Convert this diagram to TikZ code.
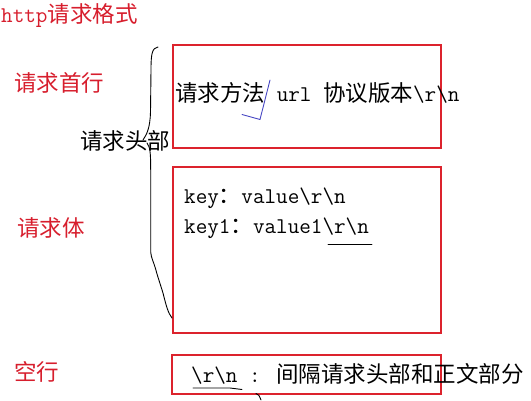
\documentclass[tikz,border=0pt]{standalone}
\usepackage{fontspec}
\newfontfamily\zh{Noto Sans CJK SC}
\definecolor{boxred}{RGB}{220,35,45}
\definecolor{txtred}{RGB}{215,30,45}
\definecolor{chkblue}{RGB}{70,70,195}
\newcommand{\bsl}{\textbackslash}
\tikzset{
  lbl/.style={anchor=west, inner sep=0pt, font=\fontsize{22.5}{27}\selectfont\ttfamily},
  redlbl/.style={lbl, text=txtred},
  frame/.style={draw=boxred, line width=1.5pt, inner sep=0pt},
  pen/.style={draw=black, line width=0.9pt, line cap=round, line join=round},
}
\begin{document}
\begin{tikzpicture}[x=1pt,y=-1pt]
\useasboundingbox (0,0) rectangle (531,400);
% title and side labels
\node[redlbl] (title) at (1,16) {http\zh 请求格式};
\node[redlbl] (shouhang) at (14,83) {\zh 请求首行};
\node[redlbl] (qingqiuti) at (17,228) {\zh 请求体};
\node[redlbl] (kongxing) at (14,372) {\zh 空行};
\node[lbl] (toubu) at (80,141) {\zh 请求头部};
% frames
\node[frame, minimum width=268pt, minimum height=103pt] (box1) at (307,96.5) {};
\node[frame, minimum width=268pt, minimum height=166pt] (box2) at (307,250) {};
\node[frame, minimum width=269pt, minimum height=39pt] (box3) at (306.5,374.5) {};
% frame texts
\node[lbl] (line1) at (175,93) {{\zh 请求方法} url {\zh 协议版本}\bsl r\bsl n};
\node[lbl] (kv1) at (184,198) {key{\zh ：}value\bsl r\bsl n};
\node[lbl] (kv2) at (184,228) {key1{\zh ：}value1\bsl r\bsl n};
\node[lbl] (blank) at (191,374) {\bsl r\bsl n : {\zh 间隔请求头部和正文部分}};
% underlines
\coordinate (u1a) at (328,244);
\coordinate (u1b) at (372,244);
\draw[pen] (u1a) -- (u1b);
\coordinate (u2a) at (193,388);
\coordinate (u2b) at (230,388);
\coordinate (u2c) at (242,389.5);
\draw[pen] (u2a) -- (u2b) .. controls (236,388) .. (u2c);
\coordinate (s1) at (256,393.5);
\coordinate (s2) at (261,400);
\draw[pen] (s1) .. controls (259,395) .. (s2);
% check mark
\coordinate (c1) at (242,114.5);
\coordinate (c2) at (260,119.5);
\coordinate (c3) at (270,80);
\draw[draw=chkblue, line width=0.9pt, line cap=round, line join=round] (c1) -- (c2) -- (c3);
% hand drawn brace
\coordinate (b0) at (158,47);
\coordinate (b1) at (143,140);
\coordinate (b2) at (147,143);
\coordinate (b3) at (172,318);
\draw[pen] (b0) .. controls (152,48) and (151,54) .. (151,70)
  -- (150.5,112) .. controls (150,128) and (147,134) .. (b1);
\draw[pen] (b2) .. controls (150,147) and (150.7,152) .. (150.7,170)
  -- (150.7,252) .. controls (151,258) and (154,262) .. (157,274)
  -- (163,293) .. controls (166,305) and (168,313) .. (b3);
\end{tikzpicture}
\end{document}
